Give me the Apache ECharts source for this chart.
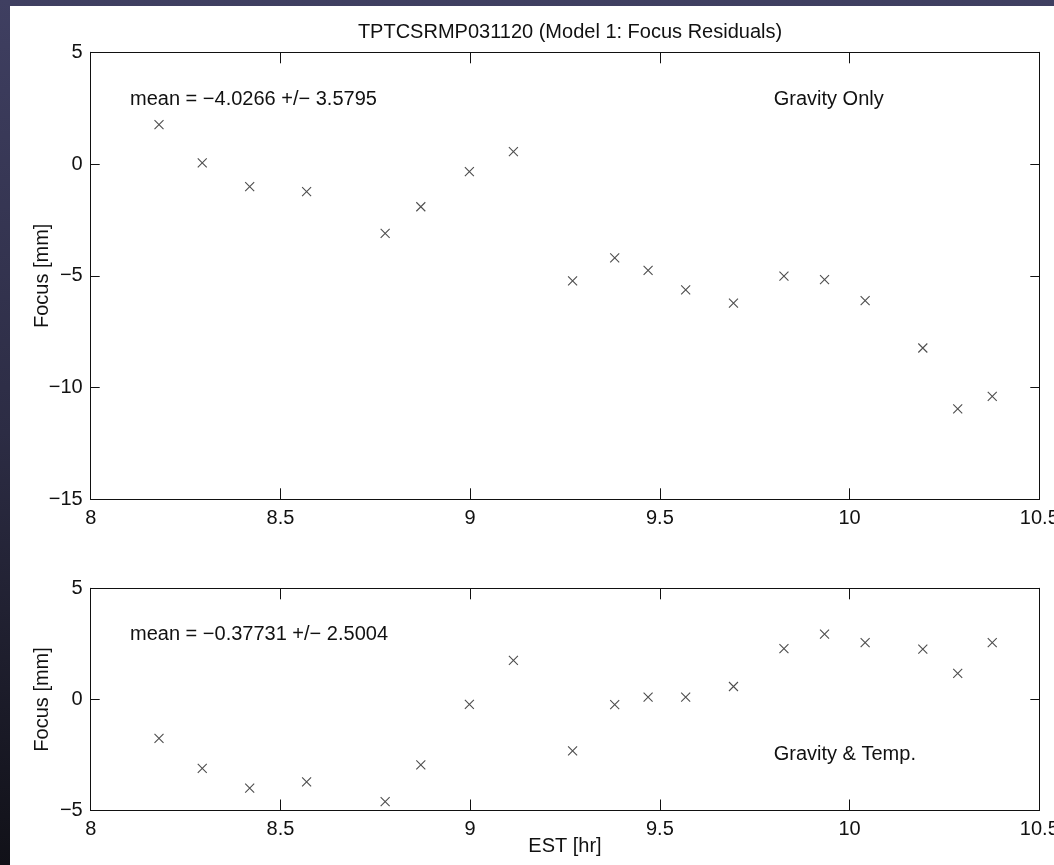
<!DOCTYPE html>
<html>
<head>
<meta charset="utf-8">
<script src="https://cdn.jsdelivr.net/npm/echarts@6/dist/echarts.min.js"></script>
<style>
  html, body { margin: 0; padding: 0; width: 1054px; height: 865px; overflow: hidden;
    background: linear-gradient(to bottom, #3f3f61 0%, #2c2c44 50%, #111118 100%); }
  #sheet { position: absolute; left: 10px; top: 6px; right: 0; bottom: 0; background: #ffffff; }
  #chart { position: absolute; left: 0; top: 0; width: 1054px; height: 865px; }
</style>
</head>
<body>
<div id="sheet"></div>
<div id="chart"></div>
<script>
// Observation times (EST, hours)
const estHours = [8.180, 8.294, 8.419, 8.569, 8.776, 8.870, 8.998, 9.114, 9.270, 9.381,
                  9.469, 9.568, 9.694, 9.827, 9.934, 10.041, 10.193, 10.285, 10.376];
// Focus residuals [mm], gravity-only model
const residGravity = [1.76, 0.05, -1.01, -1.23, -3.10, -1.91, -0.34, 0.56, -5.23, -4.20,
                      -4.76, -5.63, -6.22, -5.01, -5.17, -6.11, -8.23, -10.95, -10.39];
// Focus residuals [mm], gravity + temperature model
const residGravTemp = [-1.75, -3.10, -3.99, -3.71, -4.60, -2.95, -0.22, 1.76, -2.32, -0.24,
                       0.10, 0.10, 0.58, 2.29, 2.94, 2.56, 2.26, 1.17, 2.56];

const xTicks = [8, 8.5, 9, 9.5, 10, 10.5];
const yTicksTop = [-15, -10, -5, 0, 5];
const yTicksBottom = [-5, 0, 5];

const titleText = 'TPTCSRMP031120 (Model 1: Focus Residuals)';
const meanTop = 'mean = \u22124.0266 +/\u2212 3.5795';
const meanBottom = 'mean = \u22120.37731 +/\u2212 2.5004';
const tagTop = 'Gravity Only';
const tagBottom = 'Gravity & Temp.';
// annotation anchors in data units: [x, y, gridIndex, text]
const noteAnchors = [
  [8.1036, 2.9, 0, meanTop],
  [9.80, 2.9, 0, tagTop],
  [8.1036, 2.93, 1, meanBottom],
  [9.80, -2.5, 1, tagBottom]
];

const FONT = 'Liberation Sans, Arial, Helvetica, sans-serif';
const INK = '#111111';
const fmt = v => String(v).replace('-', '\u2212');

function xAx(grid, pos, showLabels, name) {
  return {
    type: 'value', gridIndex: grid, position: pos,
    min: xTicks[0], max: xTicks[xTicks.length - 1], interval: 0.5,
    axisLine: { show: true, onZero: false, lineStyle: { color: INK, width: 1 } },
    axisTick: { show: true, inside: true, length: 11, lineStyle: { color: INK, width: 1 } },
    axisLabel: { show: showLabels, color: INK, fontSize: 20, fontFamily: FONT, margin: 9,
                 formatter: fmt, hideOverlap: false },
    splitLine: { show: false },
    name: name || '', nameLocation: 'middle', nameGap: 26, nameMoveOverlap: false,
    nameTextStyle: { color: INK, fontSize: 20, fontFamily: FONT }
  };
}
function yAx(grid, pos, ticks, showLabels, name) {
  return {
    type: 'value', gridIndex: grid, position: pos,
    min: ticks[0], max: ticks[ticks.length - 1], interval: 5,
    axisLine: { show: true, onZero: false, lineStyle: { color: INK, width: 1 } },
    axisTick: { show: true, inside: true, length: 9, lineStyle: { color: INK, width: 1 } },
    axisLabel: { show: showLabels, color: INK, fontSize: 20, fontFamily: FONT, margin: 8, formatter: fmt },
    splitLine: { show: false },
    name: name || '', nameLocation: 'middle', nameGap: 38, nameMoveOverlap: false,
    nameTextStyle: { color: INK, fontSize: 20, fontFamily: FONT }
  };
}

const crossSymbol = 'path://M0,0L10,10M10,0L0,10';
function crossSeries(xi, yi, values) {
  return {
    type: 'scatter', xAxisIndex: xi, yAxisIndex: yi,
    data: estHours.map((t, i) => [t, values[i]]),
    symbol: crossSymbol, symbolSize: 9,
    itemStyle: { color: 'none', borderColor: '#222222', borderWidth: 1.1 },
    silent: true, animation: false
  };
}

const chart = echarts.init(document.getElementById('chart'), null, { renderer: 'canvas' });
chart.setOption({
  backgroundColor: 'transparent',
  animation: false,
  title: {
    text: titleText, left: 565, top: 17, textAlign: 'center',
    textStyle: { color: INK, fontSize: 20, fontWeight: 'normal', fontFamily: FONT }
  },
  grid: [
    { left: 90.7, right: 14.7, top: 52.3, height: 447, containLabel: false, outerBoundsMode: 'none' },
    { left: 90.7, right: 14.7, top: 588.3, height: 222.2, containLabel: false, outerBoundsMode: 'none' }
  ],
  xAxis: [
    xAx(0, 'bottom', true),
    xAx(0, 'top', false),
    xAx(1, 'bottom', true, 'EST [hr]'),
    xAx(1, 'top', false)
  ],
  yAxis: [
    yAx(0, 'left', yTicksTop, true, 'Focus [mm]'),
    yAx(0, 'right', yTicksTop, false),
    yAx(1, 'left', yTicksBottom, true, 'Focus [mm]'),
    yAx(1, 'right', yTicksBottom, false)
  ],
  series: [
    crossSeries(0, 0, residGravity),
    crossSeries(2, 2, residGravTemp)
  ]
});

// place the text notes at their data anchors
const notes = noteAnchors.map(([x, y, g, txt]) => {
  const p = chart.convertToPixel({ gridIndex: g }, [x, y]);
  return {
    type: 'text', x: p[0], y: p[1], silent: true,
    style: { text: txt, fill: INK, fontSize: 20, fontFamily: FONT, textAlign: 'left', textVerticalAlign: 'middle' }
  };
});
chart.setOption({ graphic: notes });
</script>
</body>
</html>
